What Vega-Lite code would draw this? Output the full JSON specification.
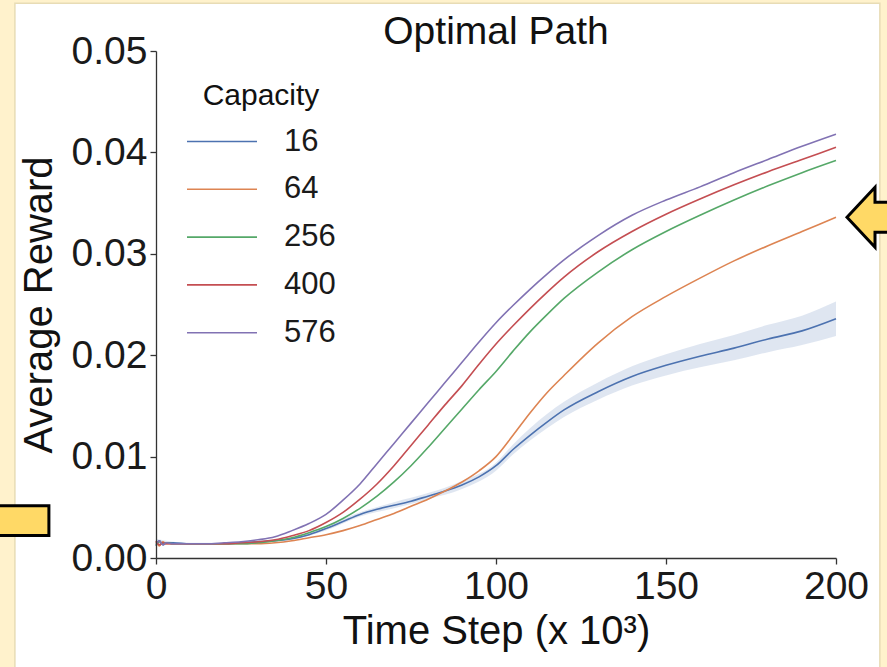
{
  "$schema": "https://vega.github.io/schema/vega-lite/v6.json",
  "width": 680,
  "height": 507,
  "autosize": {"type": "none"},
  "padding": {"left": 156, "top": 51, "right": 51, "bottom": 109},
  "background": "#fff2cc",
  "title": {"text": "Optimal Path", "font": "Liberation Sans", "fontSize": 39, "fontWeight": "normal", "color": "#111", "anchor": "middle", "offset": 2, "dy": 51},
  "config": {
    "view": {"stroke": null},
    "axis": {
      "labelFont": "Liberation Sans", "labelFontSize": 39, "labelColor": "#1a1a1a",
      "titleFont": "Liberation Sans", "titleFontSize": 40, "titleFontWeight": "normal", "titleColor": "#111",
      "domainColor": "#333", "domainWidth": 1.3, "tickColor": "#333", "tickWidth": 1.3, "tickSize": 6,
      "grid": false, "labelOverlap": false, "labelBound": false, "labelFlush": false
    },
    "axisX": {"labelPadding": 3, "titlePadding": 5},
    "axisY": {"labelPadding": 3, "titlePadding": 12},
    "legend": {
      "orient": "top-left", "offset": 30, "padding": 0, "zindex": 1,
      "titleFont": "Liberation Sans", "titleFontSize": 30, "titleFontWeight": "normal", "titleColor": "#111",
      "titleAnchor": "middle", "titlePadding": 4.5,
      "labelFont": "Liberation Sans", "labelFontSize": 31, "labelColor": "#1a1a1a", "labelOffset": 36,
      "symbolType": "M -1.4 0 L 1.4 0", "symbolSize": 2500, "symbolStrokeWidth": 1.6, "symbolOffset": 10, "rowPadding": 6.8
    }
  },
  "datasets": {
    "band": [
      {"t":0,"lo":0.0013,"hi":0.0019},{"t":5,"lo":0.0014,"hi":0.0016},{"t":10,"lo":0.0013,"hi":0.0015},{"t":20,"lo":0.0013,"hi":0.0015},
      {"t":30,"lo":0.0015,"hi":0.0017},{"t":40,"lo":0.0018,"hi":0.0020},{"t":50,"lo":0.0027,"hi":0.0031},{"t":60,"lo":0.0041,"hi":0.0045},
      {"t":70,"lo":0.0049,"hi":0.0055},{"t":80,"lo":0.0058,"hi":0.0064},{"t":90,"lo":0.0068,"hi":0.0076},{"t":100,"lo":0.0086,"hi":0.0094},
      {"t":105,"lo":0.0102,"hi":0.0112},{"t":110,"lo":0.0116,"hi":0.0128},{"t":115,"lo":0.0128,"hi":0.0142},{"t":120,"lo":0.0139,"hi":0.0154},
      {"t":130,"lo":0.0156,"hi":0.0173},{"t":140,"lo":0.0170,"hi":0.0189},{"t":150,"lo":0.0180,"hi":0.0201},{"t":160,"lo":0.0188,"hi":0.0211},
      {"t":170,"lo":0.0195,"hi":0.0220},{"t":180,"lo":0.0203,"hi":0.0230},{"t":190,"lo":0.0210,"hi":0.0239},{"t":200,"lo":0.0219,"hi":0.0253}
    ],
    "lines": [
      {"t":0,"c":"16","r":0.0012},{"t":1,"c":"16","r":0.0017},{"t":2,"c":"16","r":0.0013},{"t":3,"c":"16","r":0.0015},{"t":5,"c":"16","r":0.0015},{"t":10,"c":"16","r":0.0014},{"t":15,"c":"16","r":0.0014},{"t":20,"c":"16","r":0.0014},{"t":25,"c":"16","r":0.0015},{"t":30,"c":"16","r":0.0016},{"t":35,"c":"16","r":0.0017},{"t":40,"c":"16","r":0.0019},{"t":45,"c":"16","r":0.0023},{"t":50,"c":"16","r":0.0029},{"t":55,"c":"16","r":0.0036},{"t":60,"c":"16","r":0.0043},{"t":65,"c":"16","r":0.0048},{"t":70,"c":"16","r":0.0052},{"t":75,"c":"16","r":0.0056},{"t":80,"c":"16","r":0.0061},{"t":85,"c":"16","r":0.0066},{"t":90,"c":"16","r":0.0072},{"t":95,"c":"16","r":0.0080},{"t":100,"c":"16","r":0.0091},{"t":105,"c":"16","r":0.0107},{"t":110,"c":"16","r":0.0121},{"t":115,"c":"16","r":0.0134},{"t":120,"c":"16","r":0.0146},{"t":130,"c":"16","r":0.0164},{"t":140,"c":"16","r":0.0179},{"t":150,"c":"16","r":0.0190},{"t":160,"c":"16","r":0.0199},{"t":170,"c":"16","r":0.0207},{"t":180,"c":"16","r":0.0216},{"t":190,"c":"16","r":0.0224},{"t":200,"c":"16","r":0.0236},
      {"t":0,"c":"64","r":0.0016},{"t":1,"c":"64","r":0.0012},{"t":2,"c":"64","r":0.0016},{"t":3,"c":"64","r":0.0014},{"t":5,"c":"64","r":0.0014},{"t":10,"c":"64","r":0.0014},{"t":15,"c":"64","r":0.0014},{"t":20,"c":"64","r":0.0014},{"t":25,"c":"64","r":0.0014},{"t":30,"c":"64","r":0.0014},{"t":35,"c":"64","r":0.0015},{"t":40,"c":"64","r":0.0017},{"t":45,"c":"64","r":0.0020},{"t":50,"c":"64","r":0.0023},{"t":55,"c":"64","r":0.0027},{"t":60,"c":"64","r":0.0032},{"t":65,"c":"64","r":0.0038},{"t":70,"c":"64","r":0.0044},{"t":75,"c":"64","r":0.0051},{"t":80,"c":"64","r":0.0058},{"t":85,"c":"64","r":0.0066},{"t":90,"c":"64","r":0.0075},{"t":95,"c":"64","r":0.0086},{"t":100,"c":"64","r":0.0100},{"t":105,"c":"64","r":0.0121},{"t":110,"c":"64","r":0.0143},{"t":115,"c":"64","r":0.0163},{"t":120,"c":"64","r":0.0180},{"t":130,"c":"64","r":0.0212},{"t":140,"c":"64","r":0.0238},{"t":150,"c":"64","r":0.0258},{"t":160,"c":"64","r":0.0276},{"t":170,"c":"64","r":0.0293},{"t":180,"c":"64","r":0.0308},{"t":190,"c":"64","r":0.0322},{"t":200,"c":"64","r":0.0336},
      {"t":0,"c":"256","r":0.0013},{"t":1,"c":"256","r":0.0016},{"t":2,"c":"256","r":0.0014},{"t":3,"c":"256","r":0.0015},{"t":5,"c":"256","r":0.0014},{"t":10,"c":"256","r":0.0014},{"t":15,"c":"256","r":0.0014},{"t":20,"c":"256","r":0.0014},{"t":25,"c":"256","r":0.0014},{"t":30,"c":"256","r":0.0015},{"t":35,"c":"256","r":0.0017},{"t":40,"c":"256","r":0.0020},{"t":45,"c":"256","r":0.0025},{"t":50,"c":"256","r":0.0031},{"t":55,"c":"256","r":0.0039},{"t":60,"c":"256","r":0.0049},{"t":65,"c":"256","r":0.0061},{"t":70,"c":"256","r":0.0075},{"t":75,"c":"256","r":0.0091},{"t":80,"c":"256","r":0.0109},{"t":85,"c":"256","r":0.0128},{"t":90,"c":"256","r":0.0147},{"t":95,"c":"256","r":0.0166},{"t":100,"c":"256","r":0.0184},{"t":105,"c":"256","r":0.0204},{"t":110,"c":"256","r":0.0223},{"t":115,"c":"256","r":0.0240},{"t":120,"c":"256","r":0.0256},{"t":130,"c":"256","r":0.0282},{"t":140,"c":"256","r":0.0304},{"t":150,"c":"256","r":0.0322},{"t":160,"c":"256","r":0.0338},{"t":170,"c":"256","r":0.0353},{"t":180,"c":"256","r":0.0367},{"t":190,"c":"256","r":0.0380},{"t":200,"c":"256","r":0.0392},
      {"t":0,"c":"400","r":0.0017},{"t":1,"c":"400","r":0.0013},{"t":2,"c":"400","r":0.0015},{"t":3,"c":"400","r":0.0014},{"t":5,"c":"400","r":0.0014},{"t":10,"c":"400","r":0.0014},{"t":15,"c":"400","r":0.0014},{"t":20,"c":"400","r":0.0014},{"t":25,"c":"400","r":0.0015},{"t":30,"c":"400","r":0.0016},{"t":35,"c":"400","r":0.0018},{"t":40,"c":"400","r":0.0022},{"t":45,"c":"400","r":0.0027},{"t":50,"c":"400","r":0.0035},{"t":55,"c":"400","r":0.0045},{"t":60,"c":"400","r":0.0058},{"t":65,"c":"400","r":0.0073},{"t":70,"c":"400","r":0.0091},{"t":75,"c":"400","r":0.0111},{"t":80,"c":"400","r":0.0131},{"t":85,"c":"400","r":0.0151},{"t":90,"c":"400","r":0.0170},{"t":95,"c":"400","r":0.0191},{"t":100,"c":"400","r":0.0211},{"t":105,"c":"400","r":0.0229},{"t":110,"c":"400","r":0.0246},{"t":115,"c":"400","r":0.0262},{"t":120,"c":"400","r":0.0277},{"t":130,"c":"400","r":0.0302},{"t":140,"c":"400","r":0.0322},{"t":150,"c":"400","r":0.0339},{"t":160,"c":"400","r":0.0354},{"t":170,"c":"400","r":0.0368},{"t":180,"c":"400","r":0.0381},{"t":190,"c":"400","r":0.0393},{"t":200,"c":"400","r":0.0405},
      {"t":0,"c":"576","r":0.0014},{"t":1,"c":"576","r":0.0017},{"t":2,"c":"576","r":0.0013},{"t":3,"c":"576","r":0.0015},{"t":5,"c":"576","r":0.0014},{"t":10,"c":"576","r":0.0014},{"t":15,"c":"576","r":0.0014},{"t":20,"c":"576","r":0.0015},{"t":25,"c":"576","r":0.0016},{"t":30,"c":"576","r":0.0018},{"t":35,"c":"576","r":0.0021},{"t":40,"c":"576","r":0.0027},{"t":45,"c":"576","r":0.0034},{"t":50,"c":"576","r":0.0043},{"t":55,"c":"576","r":0.0057},{"t":60,"c":"576","r":0.0073},{"t":65,"c":"576","r":0.0093},{"t":70,"c":"576","r":0.0113},{"t":75,"c":"576","r":0.0133},{"t":80,"c":"576","r":0.0153},{"t":85,"c":"576","r":0.0173},{"t":90,"c":"576","r":0.0193},{"t":95,"c":"576","r":0.0213},{"t":100,"c":"576","r":0.0232},{"t":105,"c":"576","r":0.0249},{"t":110,"c":"576","r":0.0265},{"t":115,"c":"576","r":0.0280},{"t":120,"c":"576","r":0.0294},{"t":130,"c":"576","r":0.0318},{"t":140,"c":"576","r":0.0338},{"t":150,"c":"576","r":0.0353},{"t":160,"c":"576","r":0.0366},{"t":170,"c":"576","r":0.0380},{"t":180,"c":"576","r":0.0393},{"t":190,"c":"576","r":0.0406},{"t":200,"c":"576","r":0.0418}
    ]
  },
  "layer": [
    {
      "data": {"values": [{}]},
      "mark": {"type": "rect", "fill": "white", "stroke": "#e8dcb5", "strokeWidth": 1.5},
      "encoding": {
        "x": {"datum": -41.5, "type": "quantitative", "scale": {"domain": [0, 200], "nice": false}, "title": "Time Step (x 10³)"},
        "x2": {"datum": 212.9},
        "y": {"datum": 0.0547, "type": "quantitative", "scale": {"domain": [0, 0.05], "nice": false}, "title": "Average Reward"},
        "y2": {"datum": -0.013}
      }
    },
    {
      "data": {"name": "band"},
      "mark": {"type": "area", "fill": "#4c72b0", "opacity": 0.18, "interpolate": "monotone"},
      "encoding": {
        "x": {"field": "t", "type": "quantitative", "scale": {"domain": [0, 200], "nice": false}, "title": "Time Step (x 10³)"},
        "y": {"field": "lo", "type": "quantitative", "scale": {"domain": [0, 0.05], "nice": false}, "title": "Average Reward"},
        "y2": {"field": "hi"}
      }
    },
    {
      "data": {"name": "lines"},
      "mark": {"type": "line", "strokeWidth": 1.6, "interpolate": "monotone"},
      "encoding": {
        "x": {"field": "t", "type": "quantitative", "scale": {"domain": [0, 200], "nice": false}, "title": "Time Step (x 10³)",
              "axis": {"zindex": 2, "values": [0, 50, 100, 150, 200]}},
        "y": {"field": "r", "type": "quantitative", "scale": {"domain": [0, 0.05], "nice": false}, "title": "Average Reward",
              "axis": {"zindex": 2, "values": [0, 0.01, 0.02, 0.03, 0.04, 0.05], "format": ".2f"}},
        "color": {"field": "c", "type": "nominal", "title": "Capacity",
                  "scale": {"domain": ["16", "64", "256", "400", "576"], "range": ["#4c72b0", "#dd8452", "#55a868", "#c44e52", "#8172b3"]},
                  "sort": ["16", "64", "256", "400", "576"]}
      }
    },
    {
      "data": {"values": [{}]},
      "mark": {"type": "point", "filled": true, "fill": "#ffd966", "stroke": "#000", "strokeWidth": 3, "opacity": 1, "size": 6400,
               "shape": "M -1 0 L -0.3 -0.75 L -0.3 -0.375 L 1 -0.375 L 1 0.375 L -0.3 0.375 L -0.3 0.75 Z"},
      "encoding": {
        "x": {"datum": 215, "type": "quantitative", "scale": {"domain": [0, 200], "nice": false}, "title": "Time Step (x 10³)"},
        "y": {"datum": 0.0336, "type": "quantitative", "scale": {"domain": [0, 0.05], "nice": false}, "title": "Average Reward"}
      }
    },
    {
      "data": {"values": [{}]},
      "mark": {"type": "rect", "fill": "#ffd966", "stroke": "#000", "strokeWidth": 3},
      "encoding": {
        "x": {"datum": -50, "type": "quantitative", "scale": {"domain": [0, 200], "nice": false}, "title": "Time Step (x 10³)"},
        "x2": {"datum": -31.5},
        "y": {"datum": 0.00516, "type": "quantitative", "scale": {"domain": [0, 0.05], "nice": false}, "title": "Average Reward"},
        "y2": {"datum": 0.00223}
      }
    }
  ]
}
